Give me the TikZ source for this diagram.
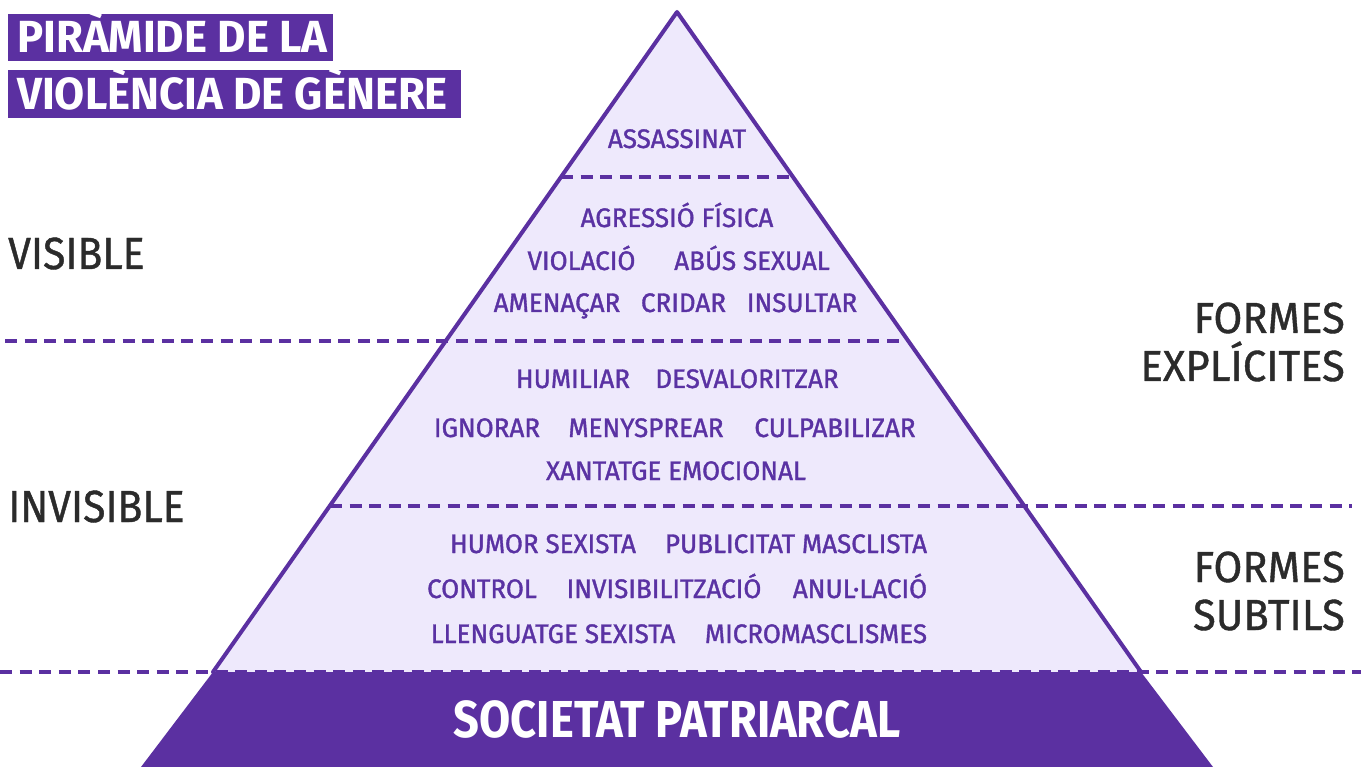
\documentclass[tikz,border=0pt]{standalone}
\usepackage{fontspec}
\newfontfamily\pyr[FakeStretch=0.97,FakeBold=1.3]{Fira Sans}
\newfontfamily\lblf[FakeStretch=0.91,FakeBold=0.9]{Fira Sans}
\newfontfamily\rlblf[FakeStretch=0.96,FakeBold=0.9]{Fira Sans}
\newfontfamily\ttlf[FakeStretch=0.97]{Fira Sans}
\newfontfamily\socf[FakeStretch=0.87]{Fira Sans}
\definecolor{pdark}{HTML}{5B30A1}
\definecolor{plight}{HTML}{EEE9FC}
\definecolor{ptext}{HTML}{5A32A3}
\definecolor{lgray}{HTML}{2B2B2B}
\tikzset{
  side/.style={draw=pdark,line width=4pt,line cap=round,line join=round},
  divider/.style={draw=pdark,line width=3.5pt,dash pattern=on 12pt off 7.6pt},
  word/.style={anchor=base,inner sep=0pt,text=ptext,font=\pyr\fontsize{26.8}{30}\selectfont},
  lab/.style={anchor=base west,inner sep=0pt,text=lgray,font=\lblf\fontsize{45}{50}\selectfont},
  rlab/.style={anchor=base east,inner sep=0pt,text=lgray,font=\rlblf\fontsize{43.5}{48}\selectfont},
  ttl/.style={anchor=base west,inner sep=0pt,text=white,font=\ttlf\bfseries\fontsize{45}{50}\selectfont},
}
\begin{document}
\begin{tikzpicture}[x=1pt,y=-1pt]
\useasboundingbox (0,0) rectangle (1361,767);
\fill[white] (0,0) rectangle (1361,767);
% key points
\coordinate (apex) at (677,12);
\coordinate (bl) at (213,672);
\coordinate (br) at (1141,672);
\coordinate (dl) at (141,767);
\coordinate (dr) at (1213,767);
% light pyramid
\fill[plight] (apex) -- (bl) -- (br) -- cycle;
% dividers
\draw[divider] (561,177) -- (793,177);
\draw[divider] (5,341) -- (908,341);
\draw[divider] (330,506) -- (1352,506);
\draw[divider] (0,672) -- (1361,672);
% base
\fill[pdark] (bl) -- (br) -- (dr) -- (dl) -- cycle;
\draw[side] (bl) -- (apex) -- (br);
% title
\fill[pdark] (8,14) rectangle (333,61);
\fill[pdark] (8,70) rectangle (461,118);
\node[ttl] (t1) at (17,53) {PIRÀMIDE DE LA};
\node[ttl] (t2) at (17,110) {VIOLÈNCIA DE GÈNERE};
% side labels
\node[lab] (vis) at (8,269) {VISIBLE};
\node[lab] (invis) at (8,522) {INVISIBLE};
\node[rlab] (fe1) at (1345,333) {FORMES};
\node[rlab] (fe2) at (1345,381) {EXPLÍCITES};
\node[rlab] (fs1) at (1345,582) {FORMES};
\node[rlab] (fs2) at (1345,630) {SUBTILS};
% pyramid words
\node[word] (w1) at (677,148) {ASSASSINAT};
\node[word] (w2) at (677,227) {AGRESSIÓ FÍSICA};
\node[word] (w3) at (581.5,270) {VIOLACIÓ};
\node[word] (w4) at (752,270) {ABÚS SEXUAL};
\node[word] (w5) at (557,312) {AMENAÇAR};
\node[word] (w6) at (683.5,312) {CRIDAR};
\node[word] (w7) at (802,312) {INSULTAR};
\node[word] (w8) at (573,388) {HUMILIAR};
\node[word] (w9) at (747,388) {DESVALORITZAR};
\node[word] (w10) at (487,437) {IGNORAR};
\node[word] (w11) at (646,437) {MENYSPREAR};
\node[word] (w12) at (835,437) {CULPABILIZAR};
\node[word] (w13) at (676,480) {XANTATGE EMOCIONAL};
\node[word] (w14) at (543,553) {HUMOR SEXISTA};
\node[word] (w15) at (796,553) {PUBLICITAT MASCLISTA};
\node[word] (w16) at (482,598) {CONTROL};
\node[word] (w17) at (664,598) {INVISIBILITZACIÓ};
\node[word] (w18) at (860,598) {ANUL·LACIÓ};
\node[word] (w19) at (553,643) {LLENGUATGE SEXISTA};
\node[word] (w20) at (816,643) {MICROMASCLISMES};
\node[anchor=base,inner sep=0pt,text=white,font=\socf\bfseries\fontsize{52}{56}\selectfont] (soc) at (677,737) {SOCIETAT PATRIARCAL};
\end{tikzpicture}
\end{document}
